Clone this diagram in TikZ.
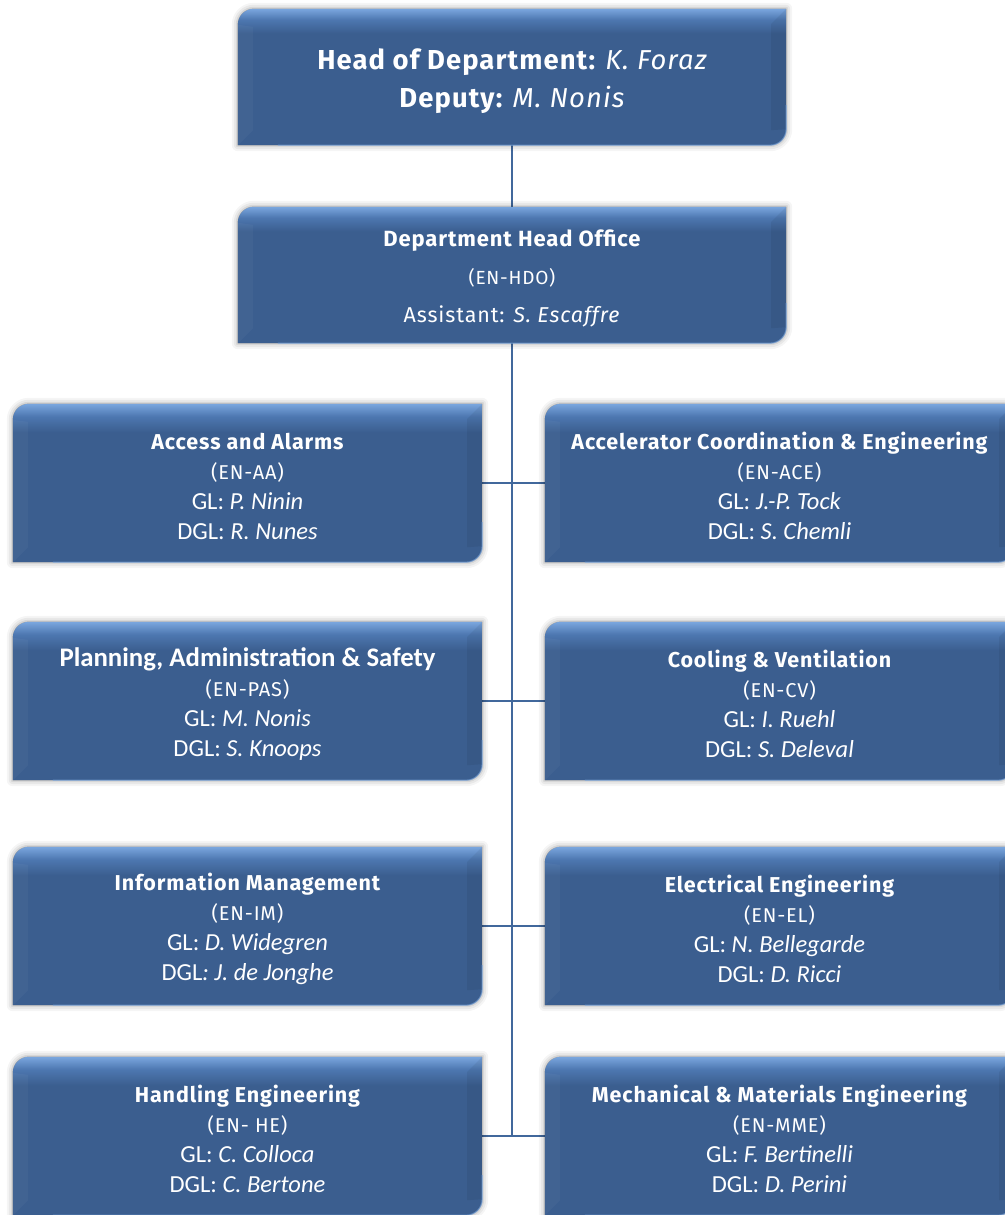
\documentclass[tikz,border=0pt]{standalone}
\usepackage{fontspec}
\usetikzlibrary{backgrounds}
\setmainfont{Carlito}
\newfontfamily\din{Fira Sans}[LetterSpace=4]
\newfontfamily\calib{Carlito}

\definecolor{bbase}{HTML}{3B5E8F}
\definecolor{bmid}{HTML}{4D77B0}
\definecolor{btop}{HTML}{7AA6DE}
\definecolor{linkblue}{HTML}{41689C}

% vertical fill: the box spans 25bp (bottom) to 75bp (top)
\pgfdeclareverticalshading{unitshade}{100bp}{%
  color(0bp)=(bbase); color(25bp)=(bbase); color(66bp)=(bbase);
  color(71bp)=(bmid); color(75bp)=(btop); color(100bp)=(btop)}

% outline with rounded top-left and bottom-right corners
\newcommand\unitoutline[1]{%
  (#1.south west) -- ([yshift=-16pt]#1.north west)
  arc[start angle=180, end angle=90, radius=16pt]
  -- (#1.north east) -- ([yshift=16pt]#1.south east)
  arc[start angle=0, end angle=-90, radius=16pt] -- cycle}

\newcommand\unitbox[1]{%
  % soft shadow
  \foreach \w/\o in {12/0.04, 8/0.05, 4/0.07, 1/0.10}{
    \path[shift={(1pt,-4pt)}, fill=black, fill opacity=\o,
          draw=black, draw opacity=\o, line width=\w pt, line join=round]
      \unitoutline{#1};
  }
  % body
  \shade[shading=unitshade] \unitoutline{#1};
  % right bevel
  \fill[black, opacity=0.06]
    (#1.north east) -- ([shift={(-15pt,-15pt)}]#1.north east)
    -- ([shift={(-15pt,15pt)}]#1.south east) -- ([yshift=16pt]#1.south east) -- cycle;
  % left bevel
  \fill[white, opacity=0.035]
    ([yshift=-16pt]#1.north west) -- ([shift={(15pt,-18pt)}]#1.north west)
    -- ([shift={(15pt,15pt)}]#1.south west) -- (#1.south west) -- cycle;
  % light rim along the lower right edge
  \draw[btop, opacity=0.6, line width=1.2pt]
    ([yshift=40pt]#1.south east) -- ([yshift=16pt]#1.south east)
    arc[start angle=0, end angle=-90, radius=16pt] -- ([xshift=40pt]#1.south west);
}

\tikzset{
  unit/.style={minimum width=469pt, minimum height=158pt, inner sep=0pt,
               text=white, align=center, font=\calib\fontsize{24.5}{30}\selectfont},
  topunit/.style={minimum width=548pt, minimum height=136pt, inner sep=0pt,
               text=white, align=center, font=\din\fontsize{19}{38}\selectfont},
  link/.style={draw=linkblue, line width=2.6pt}
}

% first-line strut sets the vertical placement of the text block
\newcommand\ttl[1]{{\din\bfseries\fontsize{21.5}{30}\selectfont\rule{0pt}{24pt}#1}}
\newcommand\ttlc[1]{{\calib\bfseries\fontsize{26.8}{30}\selectfont\rule{0pt}{25pt}#1}}
\newcommand\code[1]{{\din\fontsize{20}{30}\selectfont #1}}

\begin{document}
\begin{tikzpicture}[x=1pt, y=1pt]
\useasboundingbox (0,0) rectangle (1004,-1215);

\node[topunit] (head) at (512,-77)
  {{\fontsize{27.4}{38}\selectfont\rule{0pt}{30pt}\bfseries Head of Department: \mdseries\itshape K. Foraz}\\
   {\fontsize{27.4}{38}\selectfont\bfseries Deputy: \mdseries\itshape M. Nonis}};
\node[topunit] (hdo) at (512,-275)
  {{\bfseries\fontsize{22}{38}\selectfont\rule{0pt}{24pt}Department Head Office}\\
   (EN-HDO)\\
   {\fontsize{21.5}{38}\selectfont Assistant: \textit{S. Escaffre}}};

\node[unit] (aa)  at (247.5,-483)
  {\ttl{Access and Alarms}\\ \code{(EN-AA)}\\ GL: \textit{P. Ninin}\\ DGL: \textit{R. Nunes}};
\node[unit] (ace) at (779.5,-483)
  {\ttl{Accelerator Coordination \& Engineering}\\ \code{(EN-ACE)}\\ GL: \textit{J.-P. Tock}\\ DGL: \textit{S. Chemli}};
\node[unit] (pas) at (247.5,-701)
  {\ttlc{Planning, Administration \& Safety}\\ \code{(EN-PAS)}\\ GL: \textit{M. Nonis}\\ DGL: \textit{S. Knoops}};
\node[unit] (cv)  at (779.5,-701)
  {\ttl{Cooling \& Ventilation}\\ \code{(EN-CV)}\\ GL: \textit{I. Ruehl}\\ DGL: \textit{S. Deleval}};
\node[unit] (im)  at (247.5,-926)
  {\ttl{Information Management}\\ \code{(EN-IM)}\\ GL: \textit{D. Widegren}\\ DGL\textit{: J. de Jonghe}};
\node[unit] (el)  at (779.5,-926)
  {\ttl{Electrical Engineering}\\ \code{(EN-EL)}\\ GL: \textit{N. Bellegarde}\\ DGL: \textit{D. Ricci}};
\node[unit] (he)  at (247.5,-1136)
  {\ttl{Handling Engineering}\\ \code{(EN- HE)}\\ GL: \textit{C. Colloca}\\ DGL: \textit{C. Bertone}};
\node[unit] (mme) at (779.5,-1136)
  {\ttl{Mechanical \& Materials Engineering}\\ \code{(EN-MME)}\\ GL: \textit{F. Bertinelli}\\ DGL: \textit{D. Perini}};

\begin{scope}[on background layer]
  \fill[white] (0,0) rectangle (1004,-1215);
  \draw[link] (head.south) -- (hdo.north);
  \draw[link] (hdo.south) -- (hdo.south |- he.east);
  \foreach \l/\r in {aa/ace, pas/cv, im/el, he/mme}
    \draw[link] (\l.east) -- (\r.west);
  \foreach \n in {head, hdo, aa, ace, pas, cv, im, el, he, mme}
    \unitbox{\n};
\end{scope}
\end{tikzpicture}
\end{document}
